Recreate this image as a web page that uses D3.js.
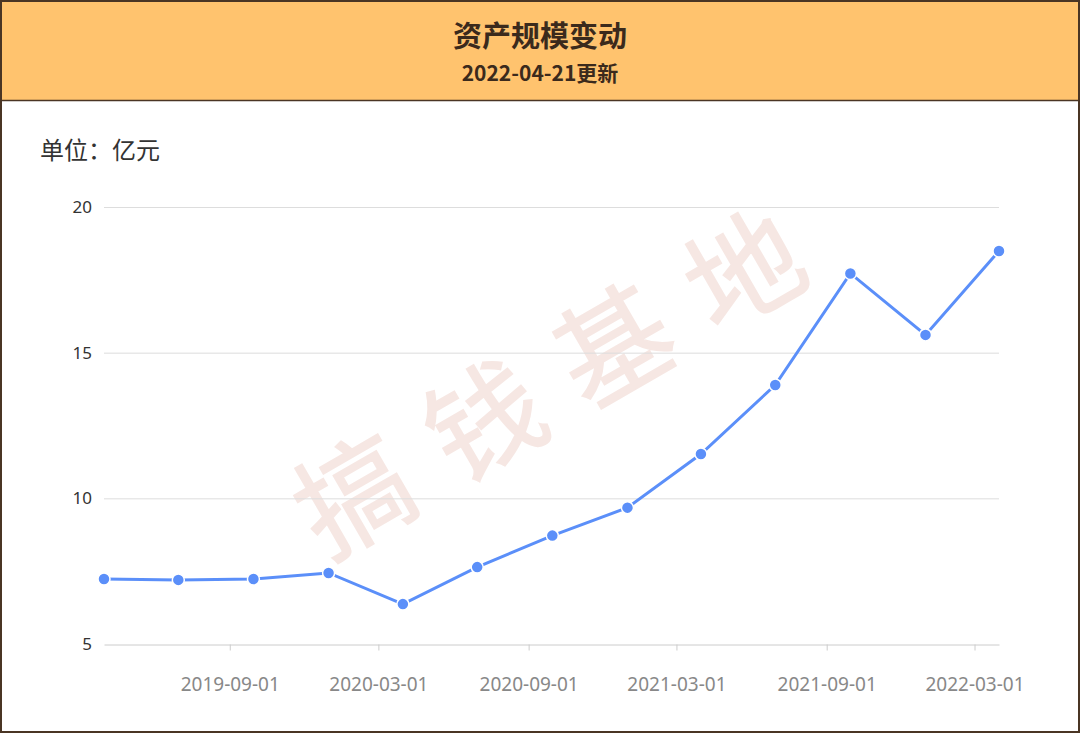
<!DOCTYPE html>
<html><head><meta charset="utf-8">
<script src="https://cdn.jsdelivr.net/npm/d3@7/dist/d3.min.js"></script>
<style>
html,body{margin:0;padding:0;background:#fff;}
svg{display:block;font-family:"Noto Sans CJK SC","Noto Sans",sans-serif;}
</style></head><body>
<svg id="c" width="1080" height="733"></svg>
<script>
const dates = ["2019-03-31","2019-06-30","2019-09-30","2019-12-31","2020-03-31","2020-06-30","2020-09-30","2020-12-31","2021-03-31","2021-06-30","2021-09-30","2021-12-31","2022-03-31"];
const values = [7.23,7.20,7.23,7.44,6.37,7.64,8.72,9.68,11.52,13.89,17.72,15.61,18.49];
const xTickDates = ["2019-09-01","2020-03-01","2020-09-01","2021-03-01","2021-09-01","2022-03-01"];
const yTicks = [5,10,15,20];
const title = "资产规模变动";
const subtitle = "2022-04-21更新";
const unitLabel = "单位：亿元";
const watermark = "搞钱基地";

const W=1080,H=733;
const svg=d3.select("#c");
const parse=d3.utcParse("%Y-%m-%d");
const fmt=d3.utcFormat("%Y-%m-%d");
const data=dates.map((d,i)=>({date:parse(d),v:values[i]}));

// header
svg.append("rect").attr("x",0).attr("y",0).attr("width",W).attr("height",100).attr("fill","#FFC36E");
svg.append("line").attr("x1",0).attr("x2",W).attr("y1",100.5).attr("y2",100.5).attr("stroke","#4a3524").attr("stroke-width",1.5);
svg.append("text").attr("x",W/2).attr("y",47).attr("text-anchor","middle").attr("font-size",29).attr("font-weight","bold").attr("fill","#3b2a1c").text(title);
svg.append("text").attr("x",W/2).attr("y",81).attr("text-anchor","middle").attr("font-size",21).attr("font-weight","bold").attr("fill","#3b2a1c").text(subtitle);

svg.append("text").attr("x",40).attr("y",159).attr("font-size",24).attr("fill","#333").text(unitLabel);

const x=d3.scaleUtc().domain([parse(dates[0]),parse(dates[dates.length-1])]).range([104,999]);
const y=d3.scaleLinear().domain([5,20]).range([644,207]);

// watermark
svg.append("text").attr("transform","translate(544,378) rotate(-30)")
  .attr("x",20).attr("text-anchor","middle").attr("dominant-baseline","central")
  .attr("font-size",114).attr("font-weight","normal").attr("letter-spacing",36)
  .attr("fill","#f6e7e3").attr("stroke","#f6e7e3").attr("stroke-width",1.5)
  .text(watermark);

// grid
const yAxis=d3.axisLeft(y).tickValues(yTicks).tickSize(0).tickPadding(12);
const gy=svg.append("g").attr("transform","translate(104,0)").call(yAxis);
gy.select(".domain").remove();
gy.selectAll("text").attr("font-size",17).attr("fill","#333").attr("font-family","'Noto Sans',sans-serif");
svg.append("g").selectAll("line").data(yTicks.filter(t=>t!==5)).join("line")
  .attr("x1",104).attr("x2",999).attr("y1",d=>y(d)+0.5).attr("y2",d=>y(d)+0.5)
  .attr("stroke","#dddddd").attr("stroke-width",1);

const xAxis=d3.axisBottom(x).tickValues(xTickDates.map(parse)).tickFormat(fmt).tickSize(6).tickSizeOuter(0).tickPadding(27);
const gx=svg.append("g").attr("transform","translate(0,644.5)").call(xAxis);
gx.select(".domain").attr("stroke","#cccccc");
gx.selectAll(".tick line").attr("stroke","#cccccc");
gx.selectAll("text").attr("font-size",19).attr("fill","#888").attr("font-family","'Noto Sans',sans-serif");

// line
const line=d3.line().x(d=>x(d.date)).y(d=>y(d.v));
svg.append("path").datum(data).attr("d",line).attr("fill","none").attr("stroke","#5B8FF9").attr("stroke-width",3);
svg.append("g").selectAll("circle").data(data).join("circle")
  .attr("cx",d=>x(d.date)).attr("cy",d=>y(d.v)).attr("r",6)
  .attr("fill","#5B8FF9").attr("stroke","#fff").attr("stroke-width",1.5);

// frame
svg.append("rect").attr("x",1).attr("y",1).attr("width",W-2).attr("height",H-2).attr("fill","none").attr("stroke","#4a3524").attr("stroke-width",2);
</script></body></html>
